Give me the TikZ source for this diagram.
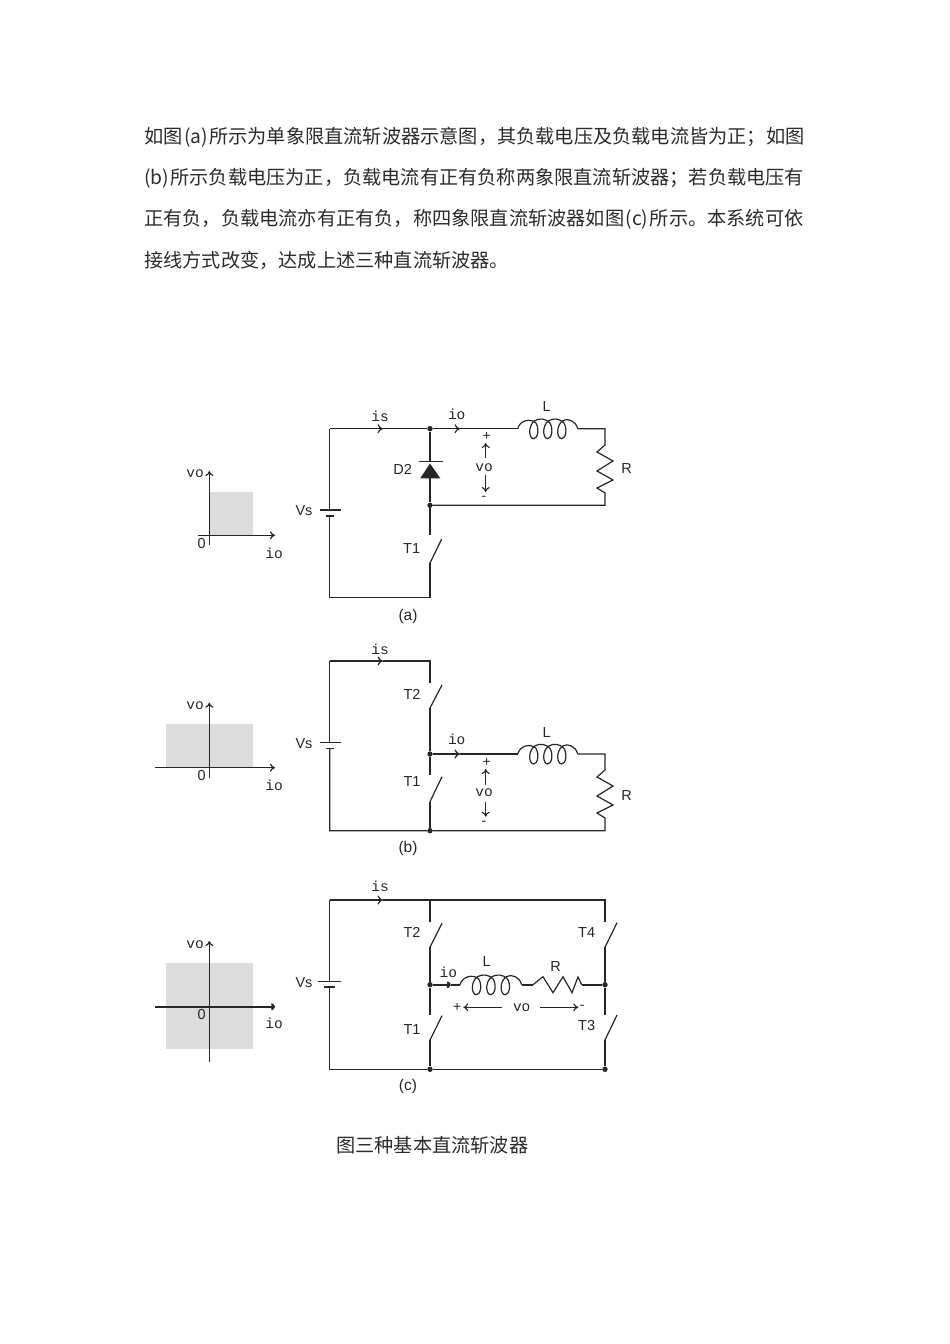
\documentclass[tikz,border=0pt]{standalone}
\usepackage{fontspec}
\setmainfont{Liberation Sans}
\newfontfamily\cjkfont{Noto Sans CJK SC}
\newfontfamily\slabfont{Liberation Mono}
\usetikzlibrary{arrows.meta}
\definecolor{ink}{HTML}{262626}
\definecolor{quad}{HTML}{DCDCDC}
\definecolor{para}{HTML}{2B2B2B}
\tikzset{
  wire/.style={draw=ink,line width=1.2pt,line join=miter},
  thick wire/.style={draw=ink,line width=2.2pt},
  flow/.style={wire,-{To[length=5.5pt,width=9pt]}},
  volt/.style={draw=ink,line width=1.1pt,-{To[length=5pt,width=8pt]}},
  axis/.style={draw=ink,line width=1.2pt,-{To[length=5pt,width=8pt]}},
  dot/.style={circle,fill=ink,inner sep=0pt,minimum size=5.4pt},
  sanslabel/.style={inner sep=0pt,text=ink,font=\fontsize{14.5}{14.5}\selectfont},
  signlabel/.style={inner sep=0pt,text=ink,font=\fontsize{14}{14}\selectfont},
  caplabel/.style={inner sep=0pt,text=ink,font=\fontsize{15.5}{15.5}\selectfont},
  slablabel/.style={inner sep=0pt,text=ink,font=\slabfont\fontsize{14.5}{14.5}\selectfont},
  paraline/.style={anchor=west,inner sep=0pt,text=para,font=\cjkfont\fontsize{19.2}{19.2}\selectfont},
  coil/.pic={\draw[wire] (0,0) .. controls (2,-8) and (12,-11) .. (18,-6)
     .. controls (22,0) and (20,10) .. (16,10) .. controls (11,10) and (10,-3) .. (17,-8)
     .. controls (22,-11) and (28,-10) .. (32,-6) .. controls (36,0) and (34,10) .. (30,10)
     .. controls (25,10) and (24,-3) .. (31,-8) .. controls (36,-11) and (42,-10) .. (46,-6)
     .. controls (50,0) and (48,10) .. (44,10) .. controls (39,10) and (38,-3) .. (45,-8)
     .. controls (50,-11) and (58,-8) .. (60,0);},
}
\begin{document}
\begin{tikzpicture}[x=1pt,y=-1pt]
\useasboundingbox (0,0) rectangle (950,1344);
% paragraph
\node[paraline] (p1) at (144,137) {如图\hspace{1.5pt}(a)\hspace{1.5pt}所示为单象限直流斩波器示意图，其负载电压及负载电流皆为正；如图};
\node[paraline] (p2) at (144,178) {(b)\hspace{1.5pt}所示负载电压为正，负载电流有正有负称两象限直流斩波器；若负载电压有};
\node[paraline] (p3) at (144,219) {正有负，负载电流亦有正有负，称四象限直流斩波器如图\hspace{1.5pt}(c)\hspace{1.5pt}所示。本系统可依};
\node[paraline] (p4) at (144,260) {接线方式改变，达成上述三种直流斩波器。};
\node[paraline] (cap) at (336,1145) {图三种基本直流斩波器};

%%% ---------- (a) ----------
\fill[quad] (210,491.7) rectangle (253.3,535);
\coordinate (qaO1) at (198,535.3); \coordinate (qaO2) at (275,535.3);
\coordinate (qaV1) at (209.3,545); \coordinate (qaV2) at (209.3,471);
\draw[axis] (qaO1) -- (qaO2);
\draw[axis] (qaV1) -- (qaV2);
\node[slablabel] (qavo) at (195,474) {vo};
\node[sanslabel] (qa0) at (201.7,544) {0};
\node[slablabel] (qaio) at (274,553) {io};

\coordinate (aTL) at (329.7,428.7); \coordinate (aBL) at (329.7,597.7);
\coordinate (aBM) at (430,597.7);
\node[dot] (aJ1) at (430,428.7) {};
\node[dot] (aJ2) at (430,505.3) {};
\coordinate (aR1) at (605,428.7); \coordinate (aR2) at (605,505.3);
\coordinate (aIs) at (383,428.7); \coordinate (aIo) at (460,428.7);
\coordinate (aC1) at (517.7,428.7); \coordinate (aC2) at (577.7,428.7);
\coordinate (aB1) at (329.7,510); \coordinate (aB2) at (329.7,516);
\coordinate (aDa) at (430,478); \coordinate (aDk) at (430,461.3);
\coordinate (aS1) at (430,535); \coordinate (aS2) at (430,563); \coordinate (aS3) at (441.7,539);
\coordinate (aZ1) at (605,445); \coordinate (aZ2) at (605,493);
\draw[wire] (aB1) -- (aTL);
\draw[flow] (aTL) -- (aIs);
\draw[wire] (aIs) -- (aJ1);
\draw[flow] (aJ1) -- (aIo);
\draw[wire] (aIo) -- (aC1);
\draw (aC1) pic {coil};
\draw[wire] (aC2) -- (aR1) -- (aZ1) -- (597,452) -- (613,461) -- (597,471) -- (613,480) -- (597,488) -- (aZ2) -- (aR2) -- (aJ2);
\draw[wire] (aJ1) -- (aDk); \draw[wire] (aDa) -- (aJ2);
\draw[ink,line width=1.6pt] (419,461.3) -- (442.7,461.3);
\fill[ink] (430,463.5) -- (440.3,478.3) -- (420.3,478.3) -- cycle;
\draw[wire] (aJ2) -- (aS1);
\draw[wire] (aS2) -- (aS3);
\draw[wire] (aS2) -- (aBM) -- (aBL) -- (aB2);
\draw[wire] (320,510) -- (341,510);
\draw[wire] (326,516) -- (334,516);
\node[slablabel] (aIsL) at (380,416) {is};
\node[slablabel] (aIoL) at (456.7,414) {io};
\node[sanslabel] (aL) at (546.7,407) {L};
\node[sanslabel] (aRl) at (626.7,469) {R};
\node[sanslabel] (aD2) at (402.7,469) {D2};
\node[slablabel] (aVo) at (484,468) {vo};
\node[signlabel] (aPlus) at (486.7,436) {+};
\node[signlabel] (aMinus) at (484,498) {-};
\coordinate (aU1) at (485.7,458); \coordinate (aU2) at (485.7,443);
\coordinate (aD1) at (485.7,475); \coordinate (aD3) at (485.7,492);
\draw[volt] (aU1) -- (aU2); \draw[volt] (aD1) -- (aD3);
\node[sanslabel] (aVs) at (304,510.7) {Vs};
\node[sanslabel] (aT1) at (411.7,549) {T1};
\node[caplabel] (aCap) at (408,616.7) {(a)};

%%% ---------- (b) ----------
\fill[quad] (166,724.3) rectangle (253.3,767.3);
\coordinate (qbO1) at (155,767.7); \coordinate (qbO2) at (275,767.7);
\coordinate (qbV1) at (209.3,778); \coordinate (qbV2) at (209.3,702.7);
\draw[axis] (qbO1) -- (qbO2);
\draw[axis] (qbV1) -- (qbV2);
\node[slablabel] (qbvo) at (195,706) {vo};
\node[sanslabel] (qb0) at (201.7,775) {0};
\node[slablabel] (qbio) at (274,785) {io};

\coordinate (bTL) at (329.7,661); \coordinate (bTM) at (430,661);
\coordinate (bBL) at (329.7,830.7);
\node[dot] (bJ1) at (430,754) {};
\node[dot] (bJ2) at (430,830.7) {};
\coordinate (bR1) at (605,754); \coordinate (bR2) at (605,830.7);
\coordinate (bIs) at (383,661); \coordinate (bIo) at (460,754);
\coordinate (bC1) at (517.7,754); \coordinate (bC2) at (577.7,754);
\coordinate (bB1) at (329.7,742.7); \coordinate (bB2) at (329.7,748.3);
\coordinate (bS1) at (430,683); \coordinate (bS2) at (430,708); \coordinate (bS3) at (442,685);
\coordinate (bS4) at (430,775); \coordinate (bS5) at (430,801.7); \coordinate (bS6) at (442,776.7);
\coordinate (bZ1) at (605,770); \coordinate (bZ2) at (605,818);
\draw[wire] (bB1) -- (bTL);
\draw[flow] (bTL) -- (bIs);
\draw[wire] (bIs) -- (bTM) -- (bS1);
\draw[wire] (bS2) -- (bS3);
\draw[wire] (bS2) -- (bJ1) -- (bS4);
\draw[wire] (bS5) -- (bS6);
\draw[wire] (bS5) -- (bJ2);
\draw[flow] (bJ1) -- (bIo);
\draw[wire] (bIo) -- (bC1);
\draw (bC1) pic {coil};
\draw[wire] (bC2) -- (bR1) -- (bZ1) -- (597,777) -- (613,786) -- (597,796) -- (613,805) -- (597,813) -- (bZ2) -- (bR2) -- (bJ2) -- (bBL) -- (bB2);
\draw[wire] (320,742.7) -- (341,742.7);
\draw[wire] (326,748.3) -- (334,748.3);
\node[slablabel] (bIsL) at (380,649) {is};
\node[slablabel] (bIoL) at (456.7,739) {io};
\node[sanslabel] (bL) at (546.7,733) {L};
\node[sanslabel] (bRl) at (626.7,795.7) {R};
\node[sanslabel] (bT2) at (412,694) {T2};
\node[sanslabel] (bT1) at (412,781.7) {T1};
\node[slablabel] (bVo) at (484,793) {vo};
\node[signlabel] (bPlus) at (486.7,762) {+};
\node[signlabel] (bMinus) at (484,823) {-};
\coordinate (bU1) at (485.7,785); \coordinate (bU2) at (485.7,769);
\coordinate (bD1) at (485.7,801.7); \coordinate (bD3) at (485.7,816.7);
\draw[volt] (bU1) -- (bU2); \draw[volt] (bD1) -- (bD3);
\node[sanslabel] (bVs) at (304,743.3) {Vs};
\node[caplabel] (bCap) at (408,848) {(b)};

%%% ---------- (c) ----------
\fill[quad] (166,963.3) rectangle (253.3,1049.3);
\coordinate (qcO1) at (155,1006.7); \coordinate (qcO2) at (275,1006.7);
\coordinate (qcV1) at (209.3,1061.7); \coordinate (qcV2) at (209.3,941);
\draw[thick wire,-{To[length=4pt,width=7pt]}] (qcO1) -- (qcO2);
\draw[axis] (qcV1) -- (qcV2);
\node[slablabel] (qcvo) at (195,945) {vo};
\node[sanslabel] (qc0) at (201.7,1014) {0};
\node[slablabel] (qcio) at (274,1023) {io};

\coordinate (cTL) at (329.7,900); \coordinate (cTM) at (430,900); \coordinate (cTR) at (605,900);
\coordinate (cBL) at (329.7,1069.3);
\node[dot] (cJ1) at (430,984.7) {};
\node[dot] (cJ2) at (605,984.7) {};
\node[dot] (cJ3) at (430,1069.3) {};
\node[dot] (cJ4) at (605,1069.3) {};
\coordinate (cIs) at (383,900);
\coordinate (cB1) at (329.7,981.7); \coordinate (cB2) at (329.7,987.3);
\coordinate (cC1) at (460,984.7); \coordinate (cC2) at (521.7,984.7);
\coordinate (cZ1) at (533,984.7); \coordinate (cZ2) at (581.7,984.7);
\coordinate (cS1) at (430,921.7); \coordinate (cS2) at (430,947.3); \coordinate (cS3) at (442,923.3);
\coordinate (cS4) at (430,1015); \coordinate (cS5) at (430,1040); \coordinate (cS6) at (442,1015.7);
\coordinate (cS7) at (605,921.7); \coordinate (cS8) at (605,947.3); \coordinate (cS9) at (617,922.7);
\coordinate (cSa) at (605,1015); \coordinate (cSb) at (605,1040); \coordinate (cSc) at (617,1015);
\draw[wire] (cB1) -- (cTL);
\draw[flow] (cTL) -- (cIs);
\draw[wire] (cIs) -- (cTR) -- (cS7);
\draw[wire] (cTM) -- (cS1);
\draw[wire] (cS2) -- (cS3);
\draw[wire] (cS2) -- (cJ1) -- (cS4);
\draw[wire] (cS5) -- (cS6);
\draw[wire] (cS5) -- (cJ3);
\draw[wire] (cS8) -- (cS9);
\draw[wire] (cS8) -- (cJ2) -- (cSa);
\draw[wire] (cSb) -- (cSc);
\draw[wire] (cSb) -- (cJ4) -- (cJ3) -- (cBL) -- (cB2);
\coordinate (cIo) at (451,984.7);
\draw[thick wire,-{To[length=4.5pt,width=7pt]}] (cJ1) -- (cIo);
\draw[thick wire] (cIo) -- (cC1);
\draw (cC1) pic[xscale=1.028] {coil};
\draw[thick wire] (cC2) -- (cZ1);
\draw[wire] (cZ1) -- (543,976.7) -- (553,992.7) -- (563,976.7) -- (572,992.7) -- (578,977) -- (cZ2);
\draw[thick wire] (cZ2) -- (cJ2);
\draw[wire] (318,981.7) -- (341,981.7);
\draw[ink,line width=2.2pt] (324.3,987.3) -- (335,987.3);
\node[slablabel] (cIsL) at (380,886.7) {is};
\node[slablabel] (cIoL) at (448.3,972.3) {io};
\node[sanslabel] (cL) at (486.7,961.7) {L};
\node[sanslabel] (cRl) at (555.7,966) {R};
\node[sanslabel] (cT2) at (412,932.7) {T2};
\node[sanslabel] (cT1) at (412,1029.3) {T1};
\node[sanslabel] (cT4) at (586.7,932.3) {T4};
\node[sanslabel] (cT3) at (586.7,1025.7) {T3};
\node[sanslabel] (cVs) at (304,982.3) {Vs};
\node[slablabel] (cVo) at (521.7,1007.3) {vo};
\node[signlabel] (cPlus) at (457.3,1007.3) {+};
\node[signlabel] (cMinus) at (582.3,1007.3) {-};
\coordinate (cA1) at (501.7,1007.3); \coordinate (cA2) at (463.3,1007.3);
\coordinate (cA3) at (540,1007.3); \coordinate (cA4) at (578.3,1007.3);
\draw[volt] (cA1) -- (cA2); \draw[volt] (cA3) -- (cA4);
\node[caplabel] (cCap) at (408,1086) {(c)};
\end{tikzpicture}
\end{document}
